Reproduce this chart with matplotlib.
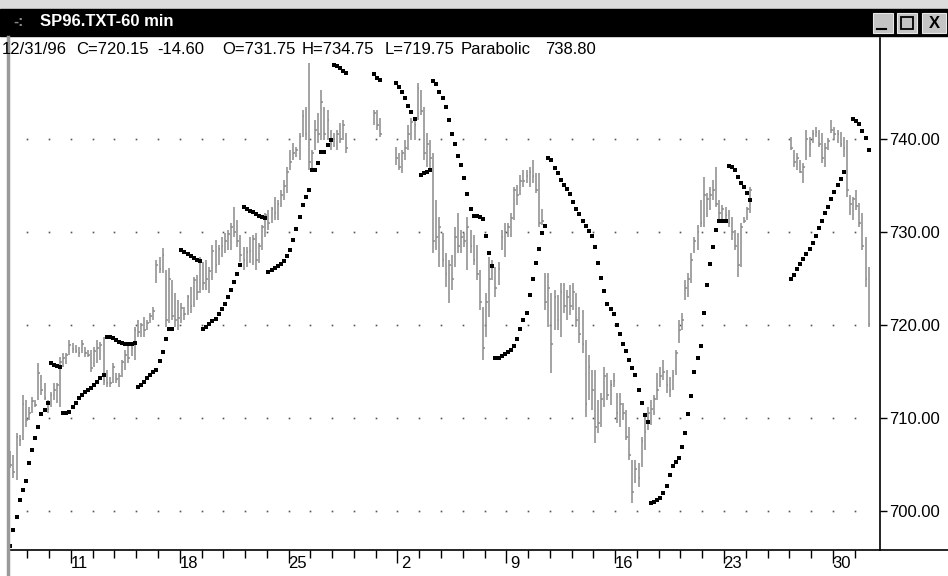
import numpy as np
import matplotlib.pyplot as plt
from matplotlib.patches import Rectangle
from matplotlib.lines import Line2D
from matplotlib.transforms import blended_transform_factory

W, H = 948, 576

# hourly bars (index 0 = first visible bar), None = no trading (holidays)
highs = [
    706.5, 706.0, 708.4, 708.2, 712.5, 711.9, 711.2, 712.3, 711.9, 715.9,
    714.6, 713.8, 711.9, 712.8, 713.8, 713.8, 716.6, 717.0, 717.0, 718.4,
    718.1, 717.8, 717.6, 718.4, 717.6, 717.3, 717.3, 717.6, 718.4, 718.2,
    718.7, 715.2, 714.4, 715.9, 714.8, 714.8, 716.2, 717.3, 717.8, 717.8,
    719.8, 720.5, 720.2, 720.9, 720.5, 721.3, 721.9, 727.0, 727.3, 728.3,
    725.9, 726.1, 724.8, 723.4, 722.7, 722.4, 721.9, 723.2, 724.1, 725.2,
    725.4, 727.3, 726.8, 727.0, 726.2, 728.6, 729.1, 728.6, 729.5, 729.9,
    730.2, 731.0, 732.7, 731.3, 729.7, 728.4, 728.4, 729.5, 729.7, 729.9,
    728.8, 730.8, 732.0, 732.4, 732.7, 733.8, 733.4, 734.5, 735.6, 737.0,
    738.8, 739.6, 739.1, 740.6, 743.1, 743.4, 748.2, 738.8, 742.0, 742.8,
    745.3, 743.4, 743.1, 741.0, 740.6, 741.0, 741.7, 742.0, 740.6, None,
] + [None] * 7 + [
    743.1, 743.1, 742.3,
] + [None] * 4 + [
    739.1, 738.5, 738.8, 739.9, 741.5, 742.3,
    742.0, 746.0, 745.3, 743.4, 740.6, 739.9, 738.5, 733.4, 731.6, 729.9,
    727.7, 727.0, 727.5, 730.5, 732.0, 730.2, 729.9, 731.6, 730.2, 729.7,
    728.6, 725.9, 721.9, 723.4, 727.3, 727.0, 726.2, 726.8, 730.2, 731.0,
    731.0, 732.0, 734.8, 735.1, 736.1, 736.7, 736.7, 737.0, 737.7, 736.3,
    736.3, 732.5, 725.6, 725.6, 723.4, 723.8, 723.2, 724.5, 724.5, 723.8,
    724.3, 724.5, 723.4, 721.9, 721.6, 718.4, 716.8, 715.2, 715.2, 711.9,
    712.7, 715.5, 714.8, 714.1, 714.8, 712.7, 712.7, 711.6, 710.9, 709.0,
    705.5, 705.5, 705.2, 708.0, 710.1, 711.2, 711.9, 712.5, 714.8, 715.5,
    716.2, 715.2, 714.4, 715.2, 717.3, 720.5, 721.3, 724.8, 725.6, 727.7,
    729.5, 730.8, 733.4, 735.9, 734.2, 734.8, 735.6, 737.0, 733.4, 732.9,
    732.7, 732.4, 731.6, 730.2, 729.9, 731.0, 731.6, 732.7, 734.8, None,
] + [None] * 11 + [
    740.2, 738.8, 738.5, 737.7, 737.4, 741.0, 740.2, 741.0, 741.3,
    741.0, 740.6, 739.6, 740.1, 742.0, 741.3, 741.0, 740.8, 740.2, 739.9,
    734.0, 733.8, 734.5, 733.1, 732.0, 729.5, 726.2,
]

lows = [
    704.6, 703.5, 703.3, 707.0, 707.6, 709.0, 709.8, 710.5, 711.2, 711.9,
    712.5, 711.9, 710.5, 711.2, 711.9, 711.6, 711.2, 715.5, 715.8, 716.8,
    717.0, 717.0, 716.6, 717.0, 716.6, 716.6, 714.9, 715.5, 715.9, 716.2,
    713.5, 713.3, 713.3, 713.8, 713.8, 713.3, 714.4, 715.2, 715.9, 716.7,
    716.2, 718.7, 718.7, 718.7, 719.5, 720.2, 720.5, 724.5, 725.6, 725.6,
    719.8, 720.2, 720.5, 719.8, 719.5, 720.2, 720.5, 721.1, 721.3, 721.9,
    722.7, 723.4, 723.8, 723.8, 723.4, 724.8, 725.6, 726.5, 727.3, 727.7,
    728.1, 728.1, 729.5, 728.4, 726.8, 725.9, 726.2, 726.7, 726.5, 725.9,
    726.7, 728.1, 729.5, 730.2, 731.0, 731.3, 731.3, 732.7, 733.4, 734.2,
    736.7, 737.7, 738.1, 737.7, 740.2, 739.9, 736.7, 736.7, 738.8, 739.6,
    739.9, 739.9, 739.9, 738.8, 739.1, 738.8, 739.6, 739.9, 738.5, None,
] + [None] * 7 + [
    741.5, 741.0, 740.2,
] + [None] * 4 + [
    737.2, 736.7, 736.3, 737.7, 738.8, 739.9,
    739.9, 742.0, 742.6, 737.7, 737.0, 736.7, 727.7, 728.1, 726.2, 726.2,
    724.1, 722.4, 723.8, 726.2, 727.7, 727.7, 728.4, 725.9, 727.7, 726.5,
    724.8, 721.6, 716.2, 718.7, 720.9, 724.8, 723.0, 724.3, 728.1, 727.3,
    729.5, 729.5, 731.3, 732.9, 734.0, 734.8, 735.3, 734.8, 735.3, 734.2,
    730.5, 730.8, 721.6, 719.8, 714.8, 719.5, 719.5, 718.7, 721.3, 720.5,
    721.1, 721.6, 719.8, 718.1, 717.0, 710.1, 711.9, 710.9, 707.3, 708.4,
    709.0, 711.2, 711.9, 711.4, 713.3, 709.5, 709.0, 709.8, 707.6, 705.5,
    700.9, 703.0, 702.6, 704.7, 706.6, 708.7, 709.2, 710.3, 711.9, 713.3,
    714.1, 712.7, 712.3, 713.0, 714.6, 718.1, 719.5, 722.7, 723.0, 724.5,
    727.7, 728.1, 730.5, 730.5, 731.6, 732.4, 733.4, 732.7, 731.3, 731.3,
    731.3, 730.5, 729.1, 728.1, 725.2, 726.2, 731.0, 731.3, 732.0, None,
] + [None] * 11 + [
    738.8, 737.0, 736.7, 736.3, 735.3, 737.7, 738.1, 739.6, 740.2,
    739.1, 737.4, 737.0, 738.8, 740.6, 739.9, 739.6, 739.1, 738.1, 733.8,
    731.8, 731.3, 732.4, 730.5, 728.1, 724.1, 719.8,
]

closes = [
    705.0, 704.2, 708.0, 707.6, 711.5, 709.8, 710.5, 711.8, 711.4, 714.8,
    713.0, 712.2, 711.0, 712.5, 713.0, 713.5, 716.0, 716.5, 716.8, 717.8,
    717.4, 717.2, 717.0, 718.0, 717.0, 716.8, 715.4, 717.2, 717.5, 717.8,
    714.0, 713.8, 713.8, 715.5, 714.2, 714.5, 716.0, 716.8, 716.5, 717.5,
    719.5, 719.2, 720.0, 719.5, 720.2, 721.0, 721.5, 726.5, 726.0, 727.5,
    720.5, 725.0, 721.0, 720.5, 720.8, 721.8, 721.2, 723.0, 722.0, 724.8,
    723.5, 726.8, 724.5, 725.0, 725.8, 728.0, 726.5, 728.2, 728.5, 729.0,
    729.8, 730.5, 730.0, 729.0, 727.5, 727.0, 727.8, 728.0, 729.2, 727.0,
    728.5, 730.5, 731.8, 731.0, 732.5, 732.0, 733.0, 734.0, 735.0, 736.5,
    737.5, 738.5, 738.8, 740.2, 742.5, 740.5, 737.5, 738.5, 741.0, 740.5,
    744.0, 740.5, 742.0, 739.5, 740.0, 740.5, 740.0, 741.5, 739.0, None,
] + [None] * 7 + [
    742.8, 741.5, 740.5,
] + [None] * 4 + [
    738.0, 737.0, 738.5, 739.0, 740.5, 741.8,
    741.5, 745.5, 743.0, 738.5, 739.5, 738.0, 729.0, 729.5, 730.5, 727.0,
    725.5, 726.5, 725.0, 729.5, 728.5, 729.5, 729.0, 730.5, 728.5, 727.0,
    725.5, 722.5, 717.5, 722.5, 725.0, 726.5, 724.0, 726.0, 729.5, 730.0,
    730.5, 731.5, 734.5, 734.0, 735.5, 735.5, 736.0, 736.5, 736.0, 734.5,
    731.0, 731.2, 722.5, 724.0, 718.0, 723.0, 720.5, 723.5, 722.0, 723.0,
    722.0, 723.5, 720.5, 719.0, 718.0, 711.5, 715.5, 713.0, 709.0, 709.5,
    712.0, 714.5, 712.5, 713.5, 714.0, 710.5, 711.5, 710.5, 708.0, 706.0,
    702.0, 704.5, 703.5, 707.5, 708.5, 710.5, 711.0, 712.0, 713.0, 714.5,
    715.0, 713.5, 713.0, 714.5, 717.0, 719.5, 720.5, 724.0, 725.0, 727.0,
    729.0, 730.0, 731.0, 734.0, 733.5, 734.0, 734.5, 733.0, 732.0, 732.5,
    731.8, 731.0, 730.0, 728.5, 726.5, 730.5, 731.2, 732.5, 734.5, None,
] + [None] * 11 + [
    739.0, 737.5, 738.0, 736.5, 737.0, 740.0, 739.5, 740.5, 740.8,
    739.5, 738.0, 739.0, 739.8, 741.0, 740.5, 740.5, 739.5, 739.0, 734.5,
    733.0, 733.5, 732.8, 731.0, 728.5, 725.0, 720.15,
]

# parabolic SAR, one value per bar
sar = [
    696.2, 698.0, 699.4, 701.2, 702.3, 703.2, 705.2, 706.6, 707.8, 709.0,
    710.4, 710.9, 711.6, 715.9, 715.7, 715.6, 715.5, 710.5, 710.5, 710.6,
    711.2, 711.6, 712.1, 712.5, 712.8, 713.0, 713.2, 713.5, 713.9, 714.3,
    714.6, 718.7, 718.7, 718.6, 718.4, 718.2, 718.1, 718.0, 718.0, 718.0,
    718.1, 713.3, 713.5, 713.9, 714.3, 714.6, 714.9, 715.2, 716.1, 717.1,
    718.5, 719.6, 719.6, None, None, 728.1, 727.9, 727.6, 727.4, 727.2,
    727.0, 726.9, 719.6, 719.8, 720.1, 720.4, 720.7, 721.2, 721.7, 722.3,
    723.0, 723.8, 724.6, 725.5, 726.5, 732.7, 732.5, 732.3, 732.1, 731.9,
    731.7, 731.6, 731.5, 725.7, 725.9, 726.1, 726.3, 726.6, 726.9, 727.4,
    728.1, 729.1, 730.3, 731.6, 732.9, 733.8, 734.5, 736.7, 736.7, 737.4,
    738.6, 738.6, 739.4, 739.9, 748.0, 747.8, 747.6, 747.3, 747.1, None,
] + [None] * 7 + [
    747.0, 746.6, 746.3,
] + [None] * 4 + [
    746.0, 745.6, 745.1, 744.4, 743.6, 742.9,
    742.2, None, 736.1, 736.3, 736.5, 736.7, 746.2, 745.9, 745.1, 744.4,
    743.4, 742.0, 740.5, 739.5, 738.2, 737.2, 735.8, 734.1, 732.5, 731.7,
    731.7, 731.6, 731.4, 729.6, 727.7, 726.3, 716.4, 716.5, 716.7, 716.9,
    717.1, 717.3, 717.7, 718.5, 719.6, 720.5, 721.3, 723.2, 725.0, 726.7,
    728.2, 729.9, 730.7, 738.0, 737.7, 736.9, 736.3, 735.6, 735.1, 734.6,
    734.1, 733.2, 732.5, 731.9, 731.2, 730.6, 730.1, 729.6, 728.4, 726.7,
    725.1, 723.7, 722.3, 721.7, 721.2, 720.0, 719.0, 718.0, 717.2, 716.2,
    715.4, 714.6, 713.0, 711.6, 710.3, 709.6, 700.9, 701.0, 701.2, 701.4,
    701.9, 702.7, 703.9, 704.8, 705.3, 705.7, 706.9, 708.4, 710.4, 712.4,
    714.9, 716.5, 717.7, 721.3, 724.3, 726.6, 728.4, 730.2, 731.2, 731.2,
    731.2, 737.1, 737.0, 736.7, 735.9, 735.3, 734.8, 734.2, 733.4, None,
] + [None] * 11 + [
    725.0, 725.4, 726.0, 726.6, 727.1, 727.6, 728.2, 728.8, 729.6,
    730.4, 731.2, 732.0, 732.7, 733.5, 734.3, 735.1, 735.7, 736.4, None,
    None, 742.2, 741.9, 741.6, 740.9, 740.1, 738.8,
]

price_levels = [700, 710, 720, 730, 740]
week_labels = ['11', '18', '25', '2', '9', '16', '23', '30']
info_items = ['12/31/96', 'C=720.15', '-14.60', 'O=731.75', 'H=734.75',
              'L=719.75', 'Parabolic', '738.80']

hi = np.array(highs, dtype=float)
lo = np.array(lows, dtype=float)
cl = np.array(closes, dtype=float)
ps = np.array(sar, dtype=float)
x = np.arange(len(hi))

plt.rcParams['font.family'] = ['Liberation Sans', 'DejaVu Sans']

fig = plt.figure(figsize=(W / 100, H / 100), dpi=100, facecolor='white')


def fx(px):
    return px / W


def fy(py):
    return 1 - py / H


# window chrome
fig.patches.append(Rectangle((0, fy(9)), 1, 9 / H, transform=fig.transFigure,
                             color='#dcdcdc', zorder=0))
fig.patches.append(Rectangle((0, fy(36)), 1, 27 / H, transform=fig.transFigure,
                             color='black', zorder=0))
fig.text(fx(13), fy(22), '-:', color='#8a8a8a', fontsize=11, fontweight='bold', va='center')
fig.text(fx(40), fy(22), 'SP96.TXT-60 min', color='white', fontsize=12,
         fontweight='bold', va='center')
for x0, x1 in [(873, 893), (897, 917), (922, 946)]:
    fig.patches.append(Rectangle((fx(x0), fy(33)), fx(x1 - x0), 20 / H,
                                 transform=fig.transFigure, facecolor='#c4c4c4',
                                 edgecolor='#e8e8e8', lw=0.8))
fig.lines.append(Line2D([fx(877), fx(886)], [fy(29), fy(29)], transform=fig.transFigure,
                        color='black', lw=1.5))
fig.patches.append(Rectangle((fx(901), fy(29)), fx(12), 12 / H, transform=fig.transFigure,
                             facecolor='none', edgecolor='black', lw=1.3))
fig.text(fx(934), fy(23), 'X', fontsize=12, fontweight='bold', ha='center', va='center')

# info line
for txt, px in zip(info_items, [2, 76, 157, 222, 302, 385, 461, 545]):
    fig.text(fx(px), fy(49), txt, fontsize=12, va='center')

ax = fig.add_axes([fx(9), fy(550), fx(871), (550 - 38) / H])
ax.set_facecolor('none')
ax.set_xlim(-0.42, 279.65)
ax.set_ylim(695.81, 750.86)

day_ticks = 19.5 + 7 * np.arange(-2, 37)
label_ticks = day_ticks[2::5]

for lv in price_levels:
    ax.plot(day_ticks, [lv] * len(day_ticks), ls='none', marker='s', ms=1.2,
            mew=0, color='#555555', zorder=1)

bar_col = '#8a8a8a'
ax.vlines(x, lo, hi, colors=bar_col, lw=1.1, zorder=2)
ax.hlines(cl, x, x + 0.55, colors=bar_col, lw=1.1, zorder=2)
ax.plot(x, ps, ls='none', marker='s', ms=3.4, mew=0, color='black', zorder=3)

for s in ['top', 'left', 'bottom']:
    ax.spines[s].set_visible(False)
ax.spines['right'].set_linewidth(1.2)

ax.yaxis.tick_right()
ax.set_yticks(price_levels)
ax.set_yticklabels([f'{v:.2f}' for v in price_levels], fontsize=12)
ax.tick_params(axis='y', length=5, width=1, pad=1.5)

ax.set_xticks(label_ticks)
ax.set_xticklabels([])
ax.set_xticks(day_ticks, minor=True)
ax.tick_params(axis='x', which='minor', length=5.5, width=1, direction='out')
ax.tick_params(axis='x', which='major', length=9, width=1, direction='out')

tr = blended_transform_factory(ax.transData, fig.transFigure)
for pos, lab in zip(label_ticks, week_labels):
    ax.text(pos + 2.8, fy(564), lab, transform=tr, ha='center', va='center',
            fontsize=12, family=['Liberation Sans Narrow', 'Liberation Sans'])

# frame lines
fig.lines.append(Line2D([fx(8), 1], [fy(550), fy(550)], transform=fig.transFigure,
                        color='black', lw=1.2))
fig.lines.append(Line2D([fx(8), fx(8)], [fy(37), 0], transform=fig.transFigure,
                        color='#9a9a9a', lw=2.5))

fig.savefig('out.png', dpi=100)
